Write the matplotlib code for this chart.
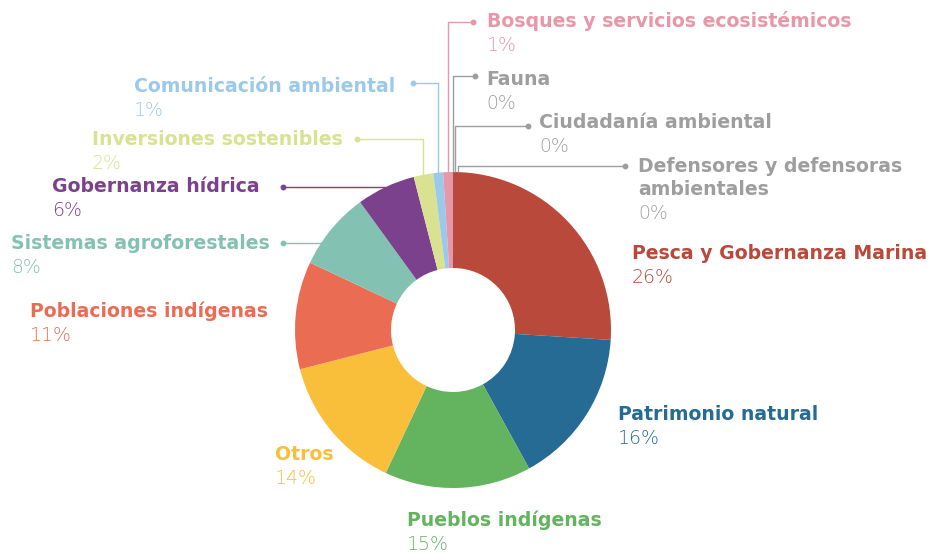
import numpy as np
import matplotlib.pyplot as plt

# Shares by theme, clockwise from 12 o'clock.
CATEGORIES = [
    "Pesca y Gobernanza Marina",
    "Patrimonio natural",
    "Pueblos indígenas",
    "Otros",
    "Poblaciones indígenas",
    "Sistemas agroforestales",
    "Gobernanza hídrica",
    "Inversiones sostenibles",
    "Comunicación ambiental",
    "Bosques y servicios ecosistémicos",
    "Fauna",
    "Ciudadanía ambiental",
    "Defensores y defensoras\nambientales",
]
SHARES = [26, 16, 15, 14, 11, 8, 6, 2, 1, 1, 0, 0, 0]
PCT_LABELS = ["26%", "16%", "15%", "14%", "11%", "8%", "6%", "2%", "1%", "1%", "0%", "0%", "0%"]

COLORS = [
    "#B9493A", "#256B93", "#63B35F", "#F9BF3B", "#EA6C52", "#83C2B2",
    "#7B418C", "#D8E291", "#9BC9EA", "#E897A8", "#9E9E9E", "#9E9E9E", "#9E9E9E",
]

W, H = 934, 553
CX, CY, R, R_IN = 453, 330, 158, 62

# label anchor (left x, baseline y of first line, pixels from top)
LABEL_POS = [
    (632, 259), (618, 420), (407, 526), (275, 460), (30, 317),
    (11, 249), (52, 192), (92, 145), (134, 92), (487, 27),
    (486, 85), (539, 128), (638, 172),
]
# leader lines: index -> (dot x, dot y, kind, x nudge)
LEADERS = {
    5: (283, 243, "h", 0),
    6: (283, 187, "h", 0),
    7: (357, 139, "v", 0),
    8: (413, 83, "v", 0),
    9: (473, 22, "v", 0),
    10: (475, 76, "v", 0),
    11: (528, 126, "v", 2),
    12: (625, 166, "v", 5),
}

FONT = "DejaVu Sans"
SIZE = 13.6
LINE_STEP = 23  # px between stacked lines


def fy(py):
    return H - py


def circle_top(x):
    return CY - np.sqrt(max(R ** 2 - (x - CX) ** 2, 0))


def circle_left(y):
    return CX - np.sqrt(max(R ** 2 - (y - CY) ** 2, 0))


def mid_angles(values):
    total = float(sum(values))
    cum = np.cumsum([0] + list(values))
    mids = (cum[:-1] + cum[1:]) / 2 / total
    return 90 - mids * 360


def draw_leaders(ax, angles):
    for i, (dx, dy, kind, nudge) in LEADERS.items():
        col = COLORS[i]
        if kind == "h":
            ex = circle_left(dy)
            xs, ys = [dx, ex], [dy, dy]
        else:
            vx = CX + R * np.cos(np.radians(angles[i])) + nudge
            xs = [dx, vx, vx]
            ys = [dy, dy, circle_top(vx)]
        ax.plot(xs, [fy(v) for v in ys], color=col, linewidth=1.0, solid_capstyle="butt")
        ax.plot([dx], [fy(dy)], marker="o", markersize=3.2, color=col)


def draw_labels(ax):
    for i, (x, y) in enumerate(LABEL_POS):
        lines = CATEGORIES[i].split("\n")
        for k, line in enumerate(lines):
            ax.text(x, fy(y + k * LINE_STEP), line, color=COLORS[i], fontsize=SIZE,
                    fontweight="bold", family=FONT, ha="left", va="baseline")
        last = y + (len(lines) - 1) * LINE_STEP
        ax.text(x, fy(last + 24), PCT_LABELS[i], color=COLORS[i],
                fontsize=SIZE, fontweight="light", family=FONT, ha="left", va="baseline")


def main():
    fig = plt.figure(figsize=(W / 100, H / 100), dpi=100)
    ax = fig.add_axes([0, 0, 1, 1])
    ax.pie(SHARES, colors=COLORS, startangle=90, counterclock=False,
           radius=R, center=(CX, fy(CY)),
           wedgeprops=dict(width=R - R_IN, linewidth=0))
    angles = mid_angles(SHARES)
    draw_leaders(ax, angles)
    draw_labels(ax)
    ax.set_xlim(0, W)
    ax.set_ylim(0, H)
    ax.set_aspect("equal")
    ax.axis("off")
    fig.savefig("out.png", dpi=100, facecolor="white")
    plt.close(fig)


if __name__ == "__main__":
    main()
